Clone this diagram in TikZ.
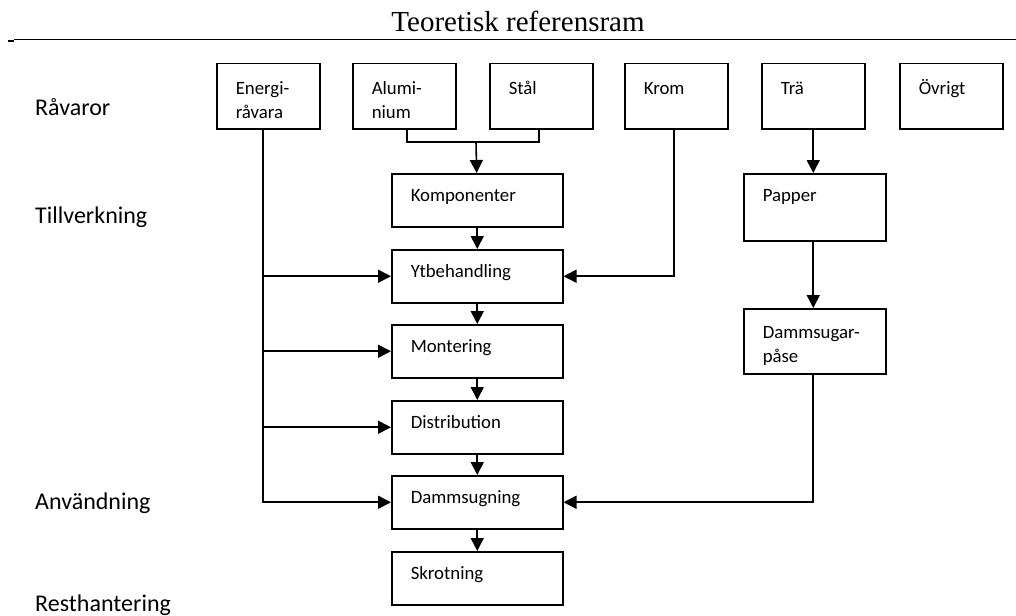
\documentclass[tikz,border=0pt]{standalone}
\usepackage{fontspec}
\usepackage{tikz}
\usetikzlibrary{arrows.meta}
\newfontfamily\carlito{Carlito}
\newfontfamily\timesfont{Liberation Serif}
\newcommand{\boxfont}{\carlito\fontsize{18.8}{24}\selectfont}
\newcommand{\stagefont}{\carlito\fontsize{24}{28}\selectfont}
\tikzset{
  box/.style = {draw, line width=1.5pt, anchor=north west, align=left,
                inner xsep=19pt, inner ysep=0pt, font=\boxfont},
  raw/.style = {box, text width=65pt, text height=31pt, text depth=34pt},
  proc/.style = {box, text width=133pt, text height=28pt, text depth=25pt},
  wood/.style = {box, text width=104pt, text height=28pt, text depth=39pt},
  stage/.style = {anchor=base west, inner sep=0pt, font=\stagefont},
  wire/.style = {line width=1.6pt},
  arr/.style = {wire, -{Triangle[width=13pt,length=13pt]}}
}

\begin{document}
\begin{tikzpicture}[x=1pt, y=-1pt]
    \useasboundingbox (0,0) rectangle (1016,615);
    % title and rule
    \node (title) [anchor=base, inner sep=0pt, font=\timesfont\fontsize{29}{32}\selectfont] at (518,32) {Teoretisk referensram};
    \draw [line width=1.4pt] (14,39.5) -- (1016,39.5);
    \draw [line width=1.6pt] (8,41) -- (14,41);
    % stages
    \node (s1) [stage] at (35,116) {Råvaror};
    \node (s2) [stage] at (35,223) {Tillverkning};
    \node (s3) [stage] at (35,509) {Användning};
    \node (s4) [stage] at (35,611) {Resthantering};
    % raw materials
    \node (energi) [raw] at (216,63) {Energi-\\råvara};
    \node (alu) [raw] at (352,63) {Alumi-\\nium};
    \node (stal) [raw] at (489,63) {Stål};
    \node (krom) [raw] at (624,63) {Krom};
    \node (tra) [raw] at (761,63) {Trä};
    \node (ovrigt) [raw] at (899,63) {Övrigt};
    % manufacturing chain
    \node (komp) [proc] at (391,173) {Komponenter};
    \node (ytb) [proc] at (391,249) {Ytbehandling};
    \node (mont) [proc] at (391,324) {Montering};
    \node (dist) [proc] at (391,400) {Distribution};
    \node (damm) [proc] at (391,475) {Dammsugning};
    \node (skrot) [proc] at (391,551) {Skrotning};
    % paper chain
    \node (papper) [wood] at (743,173) {Papper};
    \node (pase) [wood, text height=30pt, text depth=35pt] at (743,308) {Dammsugar-\\påse};
    % connectors
    \coordinate (mrg) at (476,142);
    \draw [wire] ([xshift=55pt]alu.south west) |- (mrg) -| ([xshift=50pt]stal.south west);
    \draw [arr] (mrg) -- (komp);
    \draw [arr] (komp) -- (ytb);
    \draw [arr] (ytb) -- (mont);
    \draw [arr] (mont) -- (dist);
    \draw [arr] (dist) -- (damm);
    \draw [arr] (damm) -- (skrot);
    \draw [arr] ([xshift=50pt]krom.south west) |- (ytb.east);
    \draw [arr] (tra.south) -- (tra.south |- papper.north);
    \draw [arr] (papper.south -| tra.south) -- (pase.north -| tra.south);
    \draw [arr] (pase.south -| tra.south) |- (damm.east);
    \coordinate (ebot) at ([xshift=47pt]energi.south west);
    \draw [arr] (ebot) |- (damm.west);
    \draw [arr] (ebot |- ytb.west) -- (ytb.west);
    \draw [arr] (ebot |- mont.west) -- (mont.west);
    \draw [arr] (ebot |- dist.west) -- (dist.west);
\end{tikzpicture}
\end{document}
